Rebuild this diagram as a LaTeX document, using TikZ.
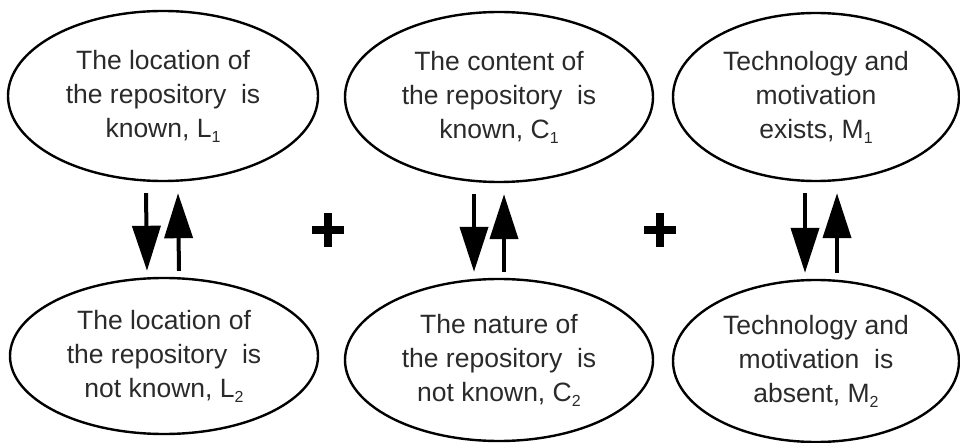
\documentclass[tikz,border=0pt]{standalone}
\usepackage{fontspec}
\setmainfont{Liberation Sans}
\usetikzlibrary{shapes.geometric,arrows.meta}
\definecolor{txtgray}{HTML}{2A2A2A}
\newcommand{\subidx}[1]{\raisebox{-0.35ex}{\fontsize{16}{16}\selectfont #1}}
\begin{document}
\begin{tikzpicture}[x=1pt,y=-1pt,
  oval/.style={ellipse,draw=black,line width=2.4pt,inner sep=0pt,
    text=txtgray,align=center,font=\fontsize{26.5}{34}\selectfont},
  updown/.style={line width=4pt,-{Triangle[width=28pt,length=45pt]}},
  plusbar/.style={line width=8pt}]
\useasboundingbox (0,0) rectangle (960,443);
\node[oval,minimum width=310pt,minimum height=170pt] (L1) at (163,96)
  {The location of\\the repository\ \ is\\known, L\subidx{1}};
\node[oval,minimum width=308pt,minimum height=170pt] (C1) at (499,97)
  {The content of\\the repository\ \ is\\known, C\subidx{1}};
\node[oval,minimum width=286pt,minimum height=168pt] (M1) at (816,97)
  {Technology and\\motivation\\exists, M\subidx{1}};
\node[oval,minimum width=308pt,minimum height=156pt] (L2) at (164,356)
  {The location of\\the repository\ \ is\\not known, L\subidx{2}};
\node[oval,minimum width=308pt,minimum height=162pt] (C2) at (499,360)
  {The nature of\\the repository\ \ is\\not known, C\subidx{2}};
\node[oval,minimum width=286pt,minimum height=162pt] (M2) at (816,361)
  {Technology and\\motivation\ \ is\\absent, M\subidx{2}};
% arrows
\foreach \a/\b/\dl/\dr in {L1/L2/-17/15, C1/C2/-25/5, M1/M2/-11/21}{
  \draw[updown] ([xshift=\dl pt,yshift=-11pt]\a.south) -- ([xshift=\dl pt,yshift=6pt]\b.north);
  \draw[updown] ([xshift=\dr pt,yshift=6pt]\b.north) -- ([xshift=\dr pt,yshift=-11pt]\a.south);
}
% plus signs
\coordinate (P1) at (328,230);
\coordinate (P2) at (660,230);
\foreach \p in {P1,P2}{
  \draw[plusbar] ([xshift=-16pt]\p) -- ([xshift=16pt]\p);
  \draw[plusbar] ([yshift=-17pt]\p) -- ([yshift=17pt]\p);
}
\end{tikzpicture}
\end{document}
